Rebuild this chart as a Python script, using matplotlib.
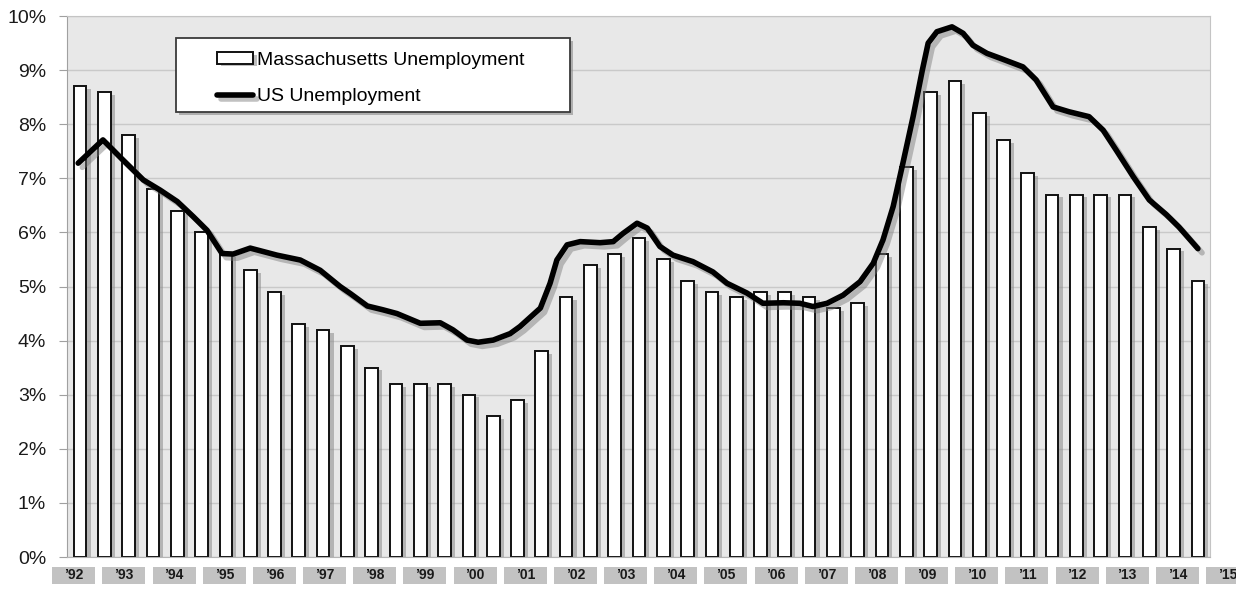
import numpy as np
import matplotlib.pyplot as plt
import matplotlib.patheffects as pe
from matplotlib.patches import Rectangle

plt.rcParams['font.family'] = ['Liberation Sans', 'DejaVu Sans']

# Massachusetts unemployment rate (%), half-yearly from 1992 H1 to 2015 H1
ma_rate = [8.7, 8.6, 7.8, 6.8, 6.4, 6.0, 5.6, 5.3, 4.9, 4.3,
           4.2, 3.9, 3.5, 3.2, 3.2, 3.2, 3.0, 2.6, 2.9, 3.8,
           4.8, 5.4, 5.6, 5.9, 5.5, 5.1, 4.9, 4.8, 4.9, 4.9,
           4.8, 4.6, 4.7, 5.6, 7.2, 8.6, 8.8, 8.2, 7.7, 7.1,
           6.7, 6.7, 6.7, 6.7, 6.1, 5.7, 5.1]
ma_time = 1992 + 0.5 * np.arange(len(ma_rate))

# US unemployment rate (%)
us_time = [1991.96, 1992.47, 1992.88, 1993.30, 1993.65, 1994.00, 1994.33, 1994.61,
           1994.92, 1995.15, 1995.50, 1996.05, 1996.53, 1996.94, 1997.35, 1997.56,
           1997.91, 1998.23, 1998.52, 1999.00, 1999.41, 1999.67, 1999.96, 2000.19,
           2000.50, 2000.85, 2001.05, 2001.47, 2001.67, 2001.81, 2002.02, 2002.29,
           2002.70, 2002.97, 2003.17, 2003.46, 2003.67, 2003.93, 2004.20, 2004.61,
           2005.02, 2005.31, 2005.72, 2006.05, 2006.47, 2006.81, 2007.08, 2007.37,
           2007.70, 2008.05, 2008.32, 2008.52, 2008.73, 2008.93, 2009.14, 2009.33,
           2009.45, 2009.63, 2009.94, 2010.17, 2010.37, 2010.66, 2010.93, 2011.40,
           2011.67, 2012.02, 2012.35, 2012.76, 2013.05, 2013.32, 2013.67, 2014.00,
           2014.35, 2014.61, 2015.00]
us_rate = [7.28, 7.71, 7.34, 6.97, 6.78, 6.57, 6.29, 6.04,
           5.61, 5.60, 5.71, 5.58, 5.49, 5.30, 5.00, 4.87,
           4.64, 4.57, 4.50, 4.32, 4.33, 4.20, 4.01, 3.97,
           4.01, 4.13, 4.26, 4.60, 5.06, 5.49, 5.77, 5.83,
           5.81, 5.83, 5.98, 6.17, 6.08, 5.74, 5.58, 5.46,
           5.27, 5.06, 4.88, 4.69, 4.70, 4.69, 4.63, 4.69,
           4.84, 5.09, 5.43, 5.86, 6.48, 7.28, 8.14, 9.00,
           9.50, 9.71, 9.80, 9.68, 9.46, 9.31, 9.22, 9.06,
           8.82, 8.32, 8.23, 8.14, 7.89, 7.52, 7.03, 6.60,
           6.33, 6.10, 5.70]

year_labels = ["’92", "’93", "’94", "’95", "’96", "’97", "’98", "’99",
               "’00", "’01", "’02", "’03", "’04", "’05", "’06", "’07",
               "’08", "’09", "’10", "’11", "’12", "’13", "’14", "’15"]

fig = plt.figure(figsize=(12.36, 5.89), dpi=100)
ax = fig.add_axes([0.0542, 0.0543, 0.9248, 0.9185])
ax.set_facecolor('#e8e8e8')

bar_shadow = [pe.SimplePatchShadow(offset=(3, -2), shadow_rgbFace='#8a8a8a', alpha=0.55), pe.Normal()]
bars = ax.bar(ma_time, ma_rate, width=0.26, color='white', edgecolor='#111111',
              linewidth=1.4, zorder=2, path_effects=bar_shadow,
              label='Massachusetts Unemployment')

line_shadow = [pe.SimpleLineShadow(offset=(3, -3), shadow_color='#777777', alpha=0.45), pe.Normal()]
line, = ax.plot(us_time, us_rate, color='black', lw=4.0, zorder=3,
                solid_joinstyle='round', solid_capstyle='round',
                path_effects=line_shadow, label='US Unemployment')

ax.set_xlim(1991.73, 2015.25)
ax.set_ylim(0, 10)
ax.set_yticks(range(0, 11))
ax.set_yticklabels([f'{v}%' for v in range(0, 11)], fontsize=14, color='#1a1a1a')
ax.tick_params(axis='y', length=6, color='#a0a0a0', pad=9)
ax.set_xticks([])
ax.yaxis.grid(True, color='#c9c9c9', lw=1.0)
ax.set_axisbelow(True)
for side in ['top', 'right']:
    ax.spines[side].set_color('#c4c4c4')
ax.spines['left'].set_color('#a0a0a0')
ax.spines['bottom'].set_color('#b5b5b5')

# year label boxes under the axis
label_pos = np.linspace(1991.87, 2015.61, len(year_labels))
xform = ax.get_xaxis_transform()
for xp, lab in zip(label_pos, year_labels):
    ax.add_patch(Rectangle((xp - 0.443, -0.0499), 0.885, 0.0314, transform=xform,
                           facecolor='#c2c2c2', edgecolor='none', clip_on=False))
    ax.text(xp, -0.034, lab, transform=xform, ha='center', va='center',
            fontsize=10, fontweight='bold', color='#1a1a1a', clip_on=False)

# legend with its own framed box
ax.add_patch(Rectangle((0.0954, 0.8226), 0.3446, 0.1364, transform=ax.transAxes,
                       facecolor='white', edgecolor='#3a3a3a', lw=1.3, zorder=5,
                       path_effects=[pe.SimplePatchShadow(offset=(2, -2), shadow_rgbFace='#888888', alpha=0.6),
                                     pe.Normal()]))
leg = ax.legend(handles=[bars, line], loc='upper left', bbox_to_anchor=(0.1312, 0.934),
                borderaxespad=0, borderpad=0, frameon=False, fontsize=14,
                handlelength=1.85, handletextpad=0.2, labelspacing=1.0, handleheight=0.55)
leg.set_zorder(6)

fig.savefig('out.png', dpi=100)
